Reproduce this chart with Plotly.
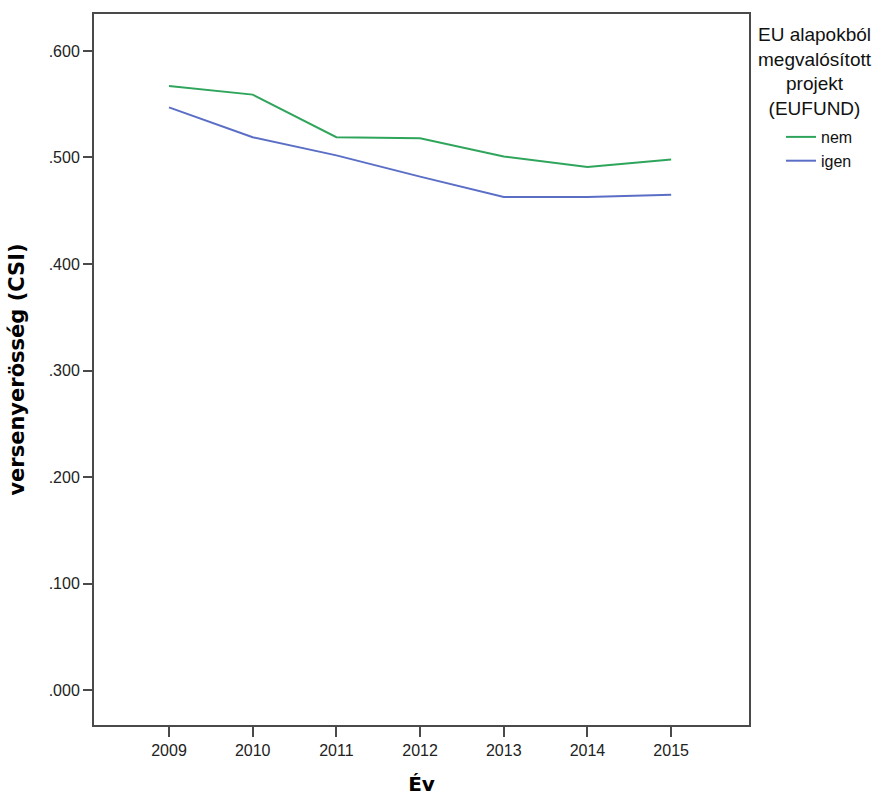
import plotly.graph_objects as go

years = [2009, 2010, 2011, 2012, 2013, 2014, 2015]
nem = [0.567, 0.559, 0.519, 0.518, 0.501, 0.491, 0.498]
igen = [0.547, 0.519, 0.502, 0.482, 0.463, 0.463, 0.465]
ytick_vals = [0.0, 0.1, 0.2, 0.3, 0.4, 0.5, 0.6]
ytick_text = [".000", ".100", ".200", ".300", ".400", ".500", ".600"]
legend_title_lines = ["EU alapokból", "megvalósított", "projekt", "(EUFUND)"]

FONT = "Liberation Sans, Arial, sans-serif"
BOLD = "DejaVu Sans, Verdana, sans-serif"

fig = go.Figure()
fig.add_trace(go.Scatter(x=years, y=nem, mode="lines", name="nem",
                         line=dict(color="#2fa55c", width=2)))
fig.add_trace(go.Scatter(x=years, y=igen, mode="lines", name="igen",
                         line=dict(color="#5b6ec6", width=2)))

PH = 796 - 14 - 71
# legend title as one centered multi-line text
fig.add_annotation(text="<br>".join(legend_title_lines), xref="paper", yref="paper",
                   x=(815 - 94) / 655, y=(725 - 72) / PH,
                   xanchor="center", yanchor="middle", align="center",
                   showarrow=False,
                   font=dict(family=FONT, size=19, color="#111"))

fig.update_layout(
    width=885, height=796,
    margin=dict(l=94, r=136, t=14, b=71, autoexpand=False),
    paper_bgcolor="white", plot_bgcolor="white",
    font=dict(family=FONT, color="#000000", size=16),
    showlegend=True,
    legend=dict(
        x=(781 - 94) / 655, xanchor="left", y=(725 - 120) / PH, yanchor="top",
        font=dict(size=16, family=FONT, color="#111"), itemwidth=30,
        bgcolor="rgba(0,0,0,0)", tracegroupgap=0,
    ),
    xaxis=dict(
        range=[2008.104, 2015.93], tickmode="array", tickvals=years,
        ticktext=[str(y) for y in years], automargin=False,
        showgrid=False, zeroline=False,
        showline=True, linecolor="#4a4a4a", linewidth=2, mirror=True,
        ticks="outside", ticklen=10, tickwidth=2, tickcolor="#4a4a4a",
        tickfont=dict(size=16, color="#222"),
        title=dict(text="<b>Év</b>", font=dict(size=20, family=BOLD), standoff=23),
    ),
    yaxis=dict(
        range=[-0.0328, 0.6347], tickmode="array", tickvals=ytick_vals,
        ticktext=ytick_text, automargin=False,
        showgrid=False, zeroline=False,
        showline=True, linecolor="#4a4a4a", linewidth=2, mirror=True,
        ticks="outside", ticklen=9, tickwidth=2, tickcolor="#4a4a4a",
        tickfont=dict(size=16, color="#222"),
        title=dict(text="<b>versenyerösség (CSI)</b>", font=dict(size=21, family=BOLD), standoff=18),
    ),
)

fig.write_html("out.html")
